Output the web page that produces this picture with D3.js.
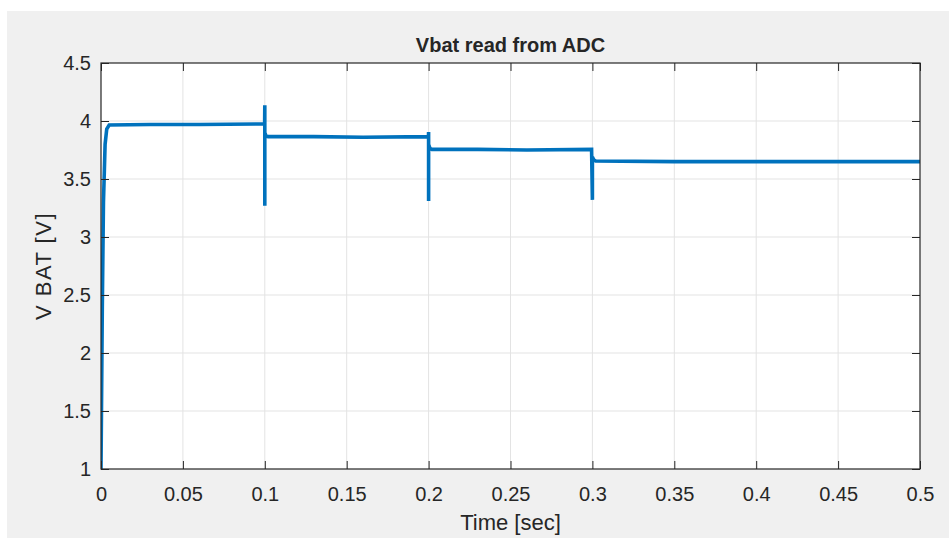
<!DOCTYPE html>
<html>
<head>
<meta charset="utf-8">
<script src="https://cdn.jsdelivr.net/npm/d3@7.9.0/dist/d3.min.js"></script>
<style>
  html, body { margin: 0; padding: 0; background: #fff; }
  svg { display: block; }
  text { font-family: "Liberation Sans", Arial, sans-serif; fill: #262626; }
</style>
</head>
<body>
<svg id="chart" width="949" height="538"></svg>
<script>
// time points (sec) and Vbat readings (V)
const times = [0, 0.0008, 0.0015, 0.0025, 0.0035, 0.005, 0.03, 0.06, 0.0999,
  0.1, 0.1, 0.1, 0.1008, 0.102, 0.13, 0.16, 0.1999,
  0.2, 0.2, 0.2, 0.2008, 0.202, 0.23, 0.26, 0.2995,
  0.3, 0.3, 0.3008, 0.302, 0.35, 0.4, 0.45, 0.5];
const vbat = [1, 2.4, 3.3, 3.8, 3.93, 3.965, 3.97, 3.97, 3.975,
  4.135, 3.27, 3.9, 3.87, 3.865, 3.865, 3.86, 3.865,
  3.905, 3.31, 3.8, 3.765, 3.755, 3.755, 3.75, 3.755,
  3.32, 3.69, 3.665, 3.655, 3.65, 3.65, 3.65, 3.65];

const xTicks = [0, 0.05, 0.1, 0.15, 0.2, 0.25, 0.3, 0.35, 0.4, 0.45, 0.5];
const yTicks = [1, 1.5, 2, 2.5, 3, 3.5, 4, 4.5];

const title = "Vbat read from ADC";
const xLabel = "Time [sec]";
const yLabel = "V BAT [V]";

const svg = d3.select("#chart");
const W = 949, H = 538;
const mLeft = 101, mRight = 920, mTop = 63, mBottom = 469;

// grey figure background
svg.append("rect").attr("x", 7).attr("y", 11).attr("width", W - 7).attr("height", H - 11).attr("fill", "#f0f0f0");
svg.append("rect").attr("x", mLeft).attr("y", mTop).attr("width", mRight - mLeft).attr("height", mBottom - mTop).attr("fill", "#fff");

const x = d3.scaleLinear().domain([0, 0.5]).range([mLeft, mRight]);
const y = d3.scaleLinear().domain([1, 4.5]).range([mBottom, mTop]);

// grid
svg.append("g").selectAll("line").data(xTicks.slice(1, -1)).join("line")
  .attr("x1", d => x(d)).attr("x2", d => x(d)).attr("y1", mTop).attr("y2", mBottom)
  .attr("stroke", "#e3e3e3").attr("stroke-width", 1);
svg.append("g").selectAll("line").data(yTicks.slice(1, -1)).join("line")
  .attr("x1", mLeft).attr("x2", mRight).attr("y1", d => y(d)).attr("y2", d => y(d))
  .attr("stroke", "#e3e3e3").attr("stroke-width", 1);

// data line
const clipId = "plotclip";
svg.append("clipPath").attr("id", clipId).append("rect")
  .attr("x", mLeft).attr("y", mTop).attr("width", mRight - mLeft).attr("height", mBottom - mTop);

const pts = times.map((t, i) => [t, vbat[i]]);
svg.append("path")
  .datum(pts)
  .attr("clip-path", `url(#${clipId})`)
  .attr("fill", "none")
  .attr("stroke", "#0072bd")
  .attr("stroke-width", 3.6)
  .attr("stroke-linejoin", "miter")
  .attr("d", d3.line().x(d => x(d[0])).y(d => y(d[1])));

// axes with inward ticks (MATLAB style)
const tickLen = 8;
const fmt = d => String(+d.toFixed(2));
const xAxis = svg.append("g").attr("transform", `translate(0,${mBottom})`)
  .call(d3.axisBottom(x).tickValues(xTicks).tickSizeInner(-tickLen).tickSizeOuter(0).tickPadding(18).tickFormat(fmt));
const xAxisTop = svg.append("g").attr("transform", `translate(0,${mTop})`)
  .call(d3.axisTop(x).tickValues(xTicks).tickSizeInner(-tickLen).tickSizeOuter(0).tickFormat(""));
const yAxis = svg.append("g").attr("transform", `translate(${mLeft},0)`)
  .call(d3.axisLeft(y).tickValues(yTicks).tickSizeInner(-tickLen).tickSizeOuter(0).tickPadding(10).tickFormat(fmt));
const yAxisRight = svg.append("g").attr("transform", `translate(${mRight},0)`)
  .call(d3.axisRight(y).tickValues(yTicks).tickSizeInner(-tickLen).tickSizeOuter(0).tickFormat(""));

[xAxis, xAxisTop, yAxis, yAxisRight].forEach(g => {
  g.select(".domain").remove();
  g.selectAll(".tick line").attr("stroke", "#262626").attr("stroke-width", 1);
  g.selectAll(".tick text").attr("font-size", 20).attr("fill", "#262626")
    .attr("font-family", "'Liberation Sans', Arial, sans-serif");
});

// box
svg.append("rect").attr("x", mLeft).attr("y", mTop).attr("width", mRight - mLeft).attr("height", mBottom - mTop)
  .attr("fill", "none").attr("stroke", "#262626").attr("stroke-width", 1.2);

// labels
svg.append("text").attr("x", (mLeft + mRight) / 2).attr("y", 52)
  .attr("text-anchor", "middle").attr("font-size", 20).attr("font-weight", "bold")
  .attr("fill", "#000").text(title);
svg.append("text").attr("x", (mLeft + mRight) / 2).attr("y", 530)
  .attr("text-anchor", "middle").attr("font-size", 22).text(xLabel);
svg.append("text").attr("transform", `translate(51,${(mTop + mBottom) / 2}) rotate(-90)`)
  .attr("text-anchor", "middle").attr("font-size", 22).attr("letter-spacing", 1.5).text(yLabel);
</script>
</body>
</html>
